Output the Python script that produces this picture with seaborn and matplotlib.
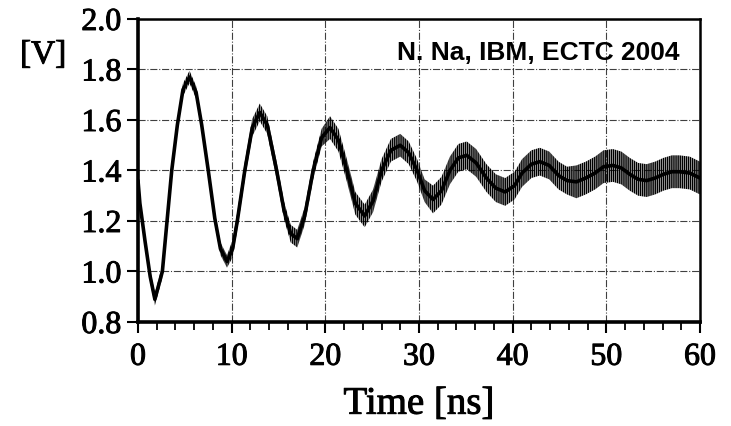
import matplotlib
matplotlib.use('Agg')
import matplotlib.pyplot as plt
import matplotlib.patheffects as pe
import seaborn as sns
import numpy as np
import pandas as pd

# --- data (ns, V) ---
time_ns = [0.0, 0.2, 0.75, 1.3, 1.8, 2.6, 3.1, 3.6, 4.2, 4.8, 5.5, 6.2, 6.8, 7.5,
           8.2, 8.8, 9.5, 10.1, 10.6, 11.4, 12.2, 13.0, 13.8, 14.8, 15.6, 16.3,
           17.0, 17.8, 18.7, 19.6, 20.5, 21.4, 22.3, 23.2, 24.2, 25.1, 26.0, 27.0,
           28.0, 28.9, 29.8, 30.6, 31.5, 32.4, 33.3, 34.2, 35.1, 36.1, 37.2, 38.2,
           39.2, 40.2, 41.0, 42.0, 42.9, 43.9, 44.9, 45.8, 46.8, 47.8, 48.8, 49.7,
           50.7, 51.6, 52.5, 53.4, 54.3, 55.2, 56.1, 57.0, 57.8, 58.9, 60.0]
voltage = [1.36, 1.27, 1.12, 0.98, 0.89, 1.00, 1.20, 1.40, 1.58, 1.72, 1.77, 1.71,
           1.58, 1.40, 1.21, 1.09, 1.04, 1.09, 1.20, 1.40, 1.57, 1.63, 1.58, 1.40,
           1.24, 1.15, 1.13, 1.22, 1.40, 1.53, 1.57, 1.52, 1.40, 1.27, 1.22, 1.28,
           1.40, 1.48, 1.50, 1.47, 1.40, 1.32, 1.285, 1.32, 1.40, 1.45, 1.46, 1.43,
           1.37, 1.33, 1.315, 1.34, 1.39, 1.425, 1.435, 1.42, 1.38, 1.36, 1.355,
           1.37, 1.39, 1.415, 1.42, 1.41, 1.385, 1.365, 1.36, 1.37, 1.385, 1.395,
           1.395, 1.39, 1.37]
# half-width of the fast ripple band around the waveform
ripple = [0.025] * 17 + [0.035] * 13 + [0.045] * 12 + [0.055] * 16 + [0.065] * 15

x_ticks = [0, 10, 20, 30, 40, 50, 60]
y_ticks = [0.8, 1.0, 1.2, 1.4, 1.6, 1.8, 2.0]

df = pd.DataFrame({'t': time_ns, 'v': voltage, 'r': ripple})

sns.set_theme(style="ticks")
plt.rcParams['font.family'] = ['Liberation Serif', 'DejaVu Serif']
plt.rcParams['hatch.linewidth'] = 1.1

fig = plt.figure(figsize=(7.31, 4.27), dpi=100)
ax = fig.add_axes([0.1888, 0.2436, 0.7688, 0.7096])

ax.fill_between(df['t'], df['v'] - df['r'], df['v'] + df['r'],
                facecolor='none', edgecolor='black', hatch='||||||||', linewidth=0)
sns.lineplot(data=df, x='t', y='v', ax=ax, color='black', linewidth=2.6)

ax.set_xlim(0, 60)
ax.set_ylim(0.8, 2.0)
ax.set_xticks(x_ticks)
ax.set_xticks(np.arange(0, 61, 2), minor=True)
ax.set_yticks(y_ticks)
ax.set_xticklabels([str(x) for x in x_ticks])
ax.set_yticklabels([f"{y:.1f}" for y in y_ticks])
ax.tick_params(axis='both', which='major', labelsize=23, length=8, width=1.5,
               color='black', labelcolor='black')
ax.tick_params(axis='x', which='major', pad=7)
ax.tick_params(axis='x', which='minor', length=6, width=1.3, color='black')
ax.tick_params(axis='y', which='major', pad=4)
heavy = [pe.withStroke(linewidth=0.7, foreground='black')]
for lab in ax.get_xticklabels() + ax.get_yticklabels():
    lab.set_path_effects(heavy)

ax.grid(True, which='major', linestyle='-.', color='black', linewidth=0.8, alpha=0.75)
for s in ax.spines.values():
    s.set_color('black')
    s.set_linewidth(1.8)
ax.spines['left'].set_linewidth(2.6)
ax.spines['bottom'].set_linewidth(2.6)

ax.set_xlabel('Time [ns]', fontsize=28, color='black', labelpad=10,
              path_effects=heavy)
ax.set_ylabel('')
fig.text(20 / 731, 1 - 56 / 427, '[V]', fontsize=24, color='black', va='center',
         ha='left', path_effects=heavy)
ax.text(0.964, 0.891, 'N. Na, IBM, ECTC 2004', transform=ax.transAxes, ha='right',
        va='center', fontsize=19, fontweight='bold', family=['Liberation Sans', 'DejaVu Sans'],
        color='black')

fig.savefig('out.png', dpi=100)
